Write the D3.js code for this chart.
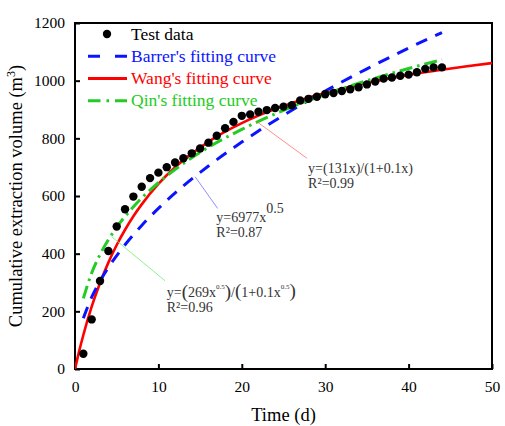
<!DOCTYPE html>
<html><head><meta charset="utf-8">
<script src="https://cdn.jsdelivr.net/npm/d3@7"></script>
<style>body{margin:0;background:#fff}svg{display:block}</style>
</head><body>
<svg id="c" width="505" height="426" font-family="'Liberation Serif', 'Times New Roman', serif"></svg>
<script>
// Test data
const days = [1,2,3,4,5,6,7,8,9,10,11,12,13,14,15,16,17,18,19,20,21,22,23,24,25,26,27,28,29,30,31,32,33,34,35,36,37,38,39,40,41,42,43,44];
const volume = [53,172,305,409,494,554,598,632,662,681,700,716,731,748,765,785,809,835,857,878,883,892,898,905,910,915,931,937,944,953,957,964,970,977,987,997,1007,1011,1017,1021,1029,1041,1046,1046];
// Fitting curves
const barrerX = [1,2,3,4,6,8,10,13,16,20,25,30,35,40,44];
const barrerY = [176,249,305,352,431,498,557,635,704,787,880,964,1041,1113,1167];
const wangX = [0,0.5,1,2,3,4,5,6,7,8,10,12,14,16,18,20,22,25,28,30,33,36,40,44,47,50];
const wangY = [0,62,118,216,298,369,430,483,530,571,642,700,747,788,823,853,879,912,941,957,979,998,1020,1038,1050,1061];
const qinX = [1,2,3,4,5,6,8,10,13,16,20,25,30,35,40,44];
const qinY = [245,333,397,448,492,529,593,646,713,769,831,897,952,1000,1042,1073];
const xTicks = [0,10,20,30,40,50];
const yTicks = [0,200,400,600,800,1000,1200];
const legendLabels = ["Test data","Barrer's fitting curve","Wang's fitting curve","Qin's fitting curve"];

const FONT = "'Liberation Serif', 'Times New Roman', serif";
const svg = d3.select("#c");
const L=75, R=492, T=23, B=369;
const x = d3.scaleLinear().domain([0,50]).range([L,R]);
const y = d3.scaleLinear().domain([0,1200]).range([B,T]);

const cBlue="#0a14ff", cRed="#ff0000", cGreen="#22cc22";

svg.append("defs").append("clipPath").attr("id","clip")
  .append("rect").attr("x",L).attr("y",T).attr("width",R-L).attr("height",B-T);

// axes
const ax = svg.append("g").attr("transform",`translate(0,${B})`)
  .call(d3.axisBottom(x).tickValues(xTicks).tickSize(-5).tickPadding(8).tickFormat(d3.format("d")));
const ay = svg.append("g").attr("transform",`translate(${L},0)`)
  .call(d3.axisLeft(y).tickValues(yTicks).tickSize(-5).tickPadding(10).tickFormat(d3.format("d")));
[ax,ay].forEach(g=>{
  g.attr("font-family",FONT).attr("font-size",15.5);
  g.select(".domain").remove();
  g.selectAll("line").attr("stroke","#000").attr("stroke-width",2);
  g.selectAll("text").attr("fill","#000");
});
ax.selectAll("text").attr("dy","0.95em");
// frame
svg.append("rect").attr("x",L).attr("y",T).attr("width",R-L).attr("height",B-T)
  .attr("fill","none").attr("stroke","#000").attr("stroke-width",2);

// titles
svg.append("text").attr("x",(L+R)/2).attr("y",421).attr("text-anchor","middle")
  .attr("font-size","18.5px").text("Time (d)");
const yt = svg.append("text").attr("transform",`translate(22,${(T+B)/2}) rotate(-90)`)
  .attr("text-anchor","middle").attr("font-size","18.5px");
yt.append("tspan").text("Cumulative extraction volume (m");
yt.append("tspan").attr("dy",-7).attr("font-size","12px").text("3");
yt.append("tspan").attr("dy",7).text(")");

const plot = svg.append("g").attr("clip-path","url(#clip)");
const line = d3.line().x(d=>x(d[0])).y(d=>y(d[1])).curve(d3.curveMonotoneX);

// Red Wang
plot.append("path").datum(d3.zip(wangX,wangY)).attr("d",line)
  .attr("fill","none").attr("stroke",cRed).attr("stroke-width",2.6);
// Blue Barrer
plot.append("path").datum(d3.zip(barrerX,barrerY)).attr("d",line)
  .attr("fill","none").attr("stroke",cBlue).attr("stroke-width",3).attr("stroke-dasharray","12,9");
// Green Qin
plot.append("path").datum(d3.zip(qinX,qinY)).attr("d",line)
  .attr("fill","none").attr("stroke",cGreen).attr("stroke-width",3).attr("stroke-dasharray","13,5,2.5,5");
// points
plot.selectAll("circle.pt").data(d3.zip(days,volume)).join("circle")
  .attr("cx",d=>x(d[0])).attr("cy",d=>y(d[1])).attr("r",4.2).attr("fill","#000");

// annotations
const ann = svg.append("g").attr("fill","#333").attr("font-size","14px");
function leader(x1,y1,x2,y2,col){
  svg.append("line").attr("x1",x(x1)).attr("y1",y(y1)).attr("x2",x(x2)).attr("y2",y(y2))
    .attr("stroke",col).attr("stroke-width",0.8);
}
leader(21.8,858,27.8,731,"#ff7070");
leader(14.4,667,17.1,557,"#7070ff");
leader(4.4,459,10.8,306,"#70ee70");

ann.append("text").attr("x",x(27.95)).attr("y",y(680)).text("y=(131x)/(1+0.1x)");
ann.append("text").attr("x",x(27.95)).attr("y",y(628)).text("R\u00B2=0.99");

const tb = ann.append("text").attr("x",x(16.95)).attr("y",y(511));
tb.append("tspan").text("y=6977x");
tb.append("tspan").attr("dy",-9).text("0.5");
ann.append("text").attr("x",x(16.95)).attr("y",y(458)).text("R\u00B2=0.87");

const tg = ann.append("text").attr("x",x(11.0)).attr("y",y(251));
tg.append("tspan").text("y=");
tg.append("tspan").attr("font-size","19px").attr("dy",1).text("(");
tg.append("tspan").attr("dy",-1).text("269x");
tg.append("tspan").attr("font-size","7px").attr("dy",-8).text("0.5");
tg.append("tspan").attr("font-size","19px").attr("dy",9).text(")");
tg.append("tspan").attr("dy",-1).text("/");
tg.append("tspan").attr("font-size","19px").attr("dy",0).text("(");
tg.append("tspan").attr("dy",0).text("1+0.1x");
tg.append("tspan").attr("font-size","7px").attr("dy",-8).text("0.5");
tg.append("tspan").attr("font-size","19px").attr("dy",8).text(")");
ann.append("text").attr("x",x(11.0)).attr("y",y(199)).text("R\u00B2=0.96");

// legend
const lg = svg.append("g");
const rowsY = [39.5,61.8,84,106.3];
const cols = ["#000",cBlue,cRed,cGreen];
legendLabels.forEach((lab,i)=>{
  const yy = rowsY[i]-5.5;
  if(i===0){
    lg.append("circle").attr("cx",107).attr("cy",yy).attr("r",4.2).attr("fill","#000");
  } else {
    const ln = lg.append("line").attr("x1",88).attr("x2",127).attr("y1",yy).attr("y2",yy)
      .attr("stroke",cols[i]).attr("stroke-width",3);
    if(i===1) ln.attr("stroke-dasharray","12,15");
    if(i===3) ln.attr("stroke-dasharray","12.5,6,2.5,6");
  }
  lg.append("text").attr("x",131).attr("y",rowsY[i]).attr("font-size","17.5px")
    .attr("fill",cols[i]).text(lab);
});
</script>
</body></html>
